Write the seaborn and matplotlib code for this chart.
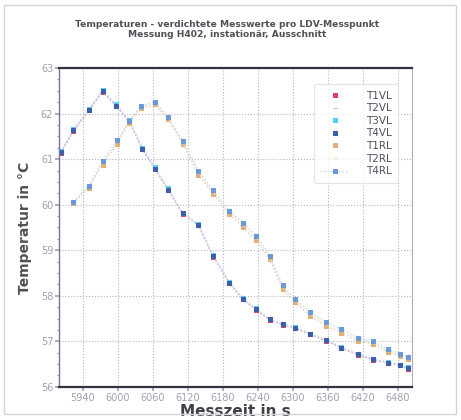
import matplotlib
matplotlib.use("Agg")
import matplotlib.pyplot as plt
import seaborn as sns
import pandas as pd
from matplotlib.ticker import MultipleLocator
from matplotlib.patches import Rectangle

# ---- data ----
t_vl = [5903, 5924, 5950, 5974, 5997, 6019, 6042, 6063, 6086, 6111, 6138, 6163, 6191,
        6214, 6237, 6260, 6282, 6303, 6329, 6357, 6383, 6411, 6437, 6463, 6483, 6497]
T1VL = [61.14, 61.62, 62.07, 62.48, 62.16, 61.84, 61.22, 60.80, 60.33, 59.80, 59.55, 58.86, 58.28,
        57.93, 57.69, 57.47, 57.36, 57.29, 57.15, 57.01, 56.85, 56.70, 56.59, 56.52, 56.47, 56.40]
T2VL = [61.16, 61.60, 62.06, 62.50, 62.18, 61.85, 61.23, 60.78, 60.31, 59.81, 59.56, 58.87, 58.27,
        57.91, 57.70, 57.48, 57.37, 57.30, 57.16, 57.02, 56.86, 56.71, 56.60, 56.53, 56.48, 56.42]
T3VL = [61.18, 61.66, 62.09, 62.52, 62.22, 61.86, 61.25, 60.82, 60.36, 59.82, 59.57, 58.89, 58.30,
        57.95, 57.72, 57.49, 57.38, 57.31, 57.17, 57.03, 56.87, 56.72, 56.61, 56.54, 56.49, 56.43]
T4VL = [61.16, 61.64, 62.08, 62.50, 62.17, 61.84, 61.23, 60.79, 60.33, 59.81, 59.55, 58.87, 58.28,
        57.92, 57.70, 57.48, 57.37, 57.30, 57.16, 57.02, 56.86, 56.71, 56.60, 56.53, 56.48, 56.41]

t_rl = [5924, 5950, 5974, 5999, 6019, 6040, 6063, 6086, 6111, 6138, 6163, 6191, 6214,
        6237, 6260, 6282, 6303, 6329, 6357, 6383, 6411, 6437, 6463, 6483, 6497]
T1RL = [60.04, 60.37, 60.88, 61.34, 61.80, 62.12, 62.20, 61.88, 61.34, 60.66, 60.24, 59.80, 59.50,
        59.22, 58.80, 58.15, 57.86, 57.56, 57.33, 57.18, 57.01, 56.94, 56.76, 56.68, 56.60]
T2RL = [60.08, 60.40, 60.92, 61.38, 61.82, 62.15, 62.24, 61.90, 61.36, 60.70, 60.28, 59.84, 59.55,
        59.28, 58.84, 58.20, 57.90, 57.60, 57.37, 57.22, 57.05, 56.97, 56.79, 56.71, 56.64]
T4RL = [60.06, 60.42, 60.96, 61.42, 61.84, 62.16, 62.26, 61.92, 61.40, 60.74, 60.32, 59.86, 59.60,
        59.32, 58.88, 58.24, 57.93, 57.64, 57.42, 57.26, 57.08, 57.00, 56.82, 56.73, 56.66]

series_names = ["T1VL", "T2VL", "T3VL", "T4VL", "T1RL", "T2RL", "T4RL"]
x_ticks = [5940, 6000, 6060, 6120, 6180, 6240, 6300, 6360, 6420, 6480]
y_ticks = [56, 57, 58, 59, 60, 61, 62, 63]

title = "Temperaturen - verdichtete Messwerte pro LDV-Messpunkt\nMessung H402, instationär, Ausschnitt"
xlabel = "Messzeit in s"
ylabel = "Temperatur in °C"

# ---- build frame ----
frames = []
for name, t, v in [("T1VL", t_vl, T1VL), ("T2VL", t_vl, T2VL), ("T3VL", t_vl, T3VL),
                   ("T4VL", t_vl, T4VL), ("T1RL", t_rl, T1RL), ("T2RL", t_rl, T2RL),
                   ("T4RL", t_rl, T4RL)]:
    frames.append(pd.DataFrame({"t": t, "T": v, "Sensor": name}))
df = pd.concat(frames, ignore_index=True)

styles = {
    "T1VL": dict(mc="#e04060", lc="#f29ac0", m="s", ms=2.6),
    "T2VL": dict(mc="#f4b0a0", lc="#f6c0d4", m="_", ms=3.5),
    "T3VL": dict(mc="#50d0f4", lc="#c0e8f8", m="s", ms=3.0),
    "T4VL": dict(mc="#3a60a8", lc="#c8c8ec", m="s", ms=2.6),
    "T1RL": dict(mc="#e0b078", lc="#f4c8b4", m="s", ms=2.6),
    "T2RL": dict(mc="#ece0a0", lc="#f4ecc4", m="_", ms=3.5),
    "T4RL": dict(mc="#6a98d8", lc="#b8dcf4", m="s", ms=2.6),
}

sns.set_theme(style="white")
plt.rcParams["font.family"] = ["DejaVu Sans"]

fig = plt.figure(figsize=(4.61, 4.20), dpi=100)
ax = fig.add_axes([0.129, 0.079, 0.765, 0.759])

for name in series_names:
    s = styles[name]
    sub = df[df["Sensor"] == name]
    sns.lineplot(data=sub, x="t", y="T", ax=ax, color=s["lc"], linestyle=":",
                 linewidth=1.0, marker=s["m"], markersize=s["ms"],
                 markerfacecolor=s["mc"], markeredgecolor=s["mc"],
                 label=name, legend=False, sort=False)

ax.set_xlim(5900, 6504)
ax.set_ylim(56, 63)
ax.set_xticks(x_ticks)
ax.set_yticks(y_ticks)
ax.yaxis.set_minor_locator(MultipleLocator(0.25))
ax.tick_params(axis="both", which="major", labelsize=7, colors="#a0a0b4",
               length=3, direction="out", pad=1.5)
ax.tick_params(axis="y", which="minor", length=1.5, color="#a0a0b4", left=True)
ax.tick_params(axis="x", bottom=True)
ax.tick_params(axis="y", left=True)
ax.grid(True, which="major", color="#b4b4bc", linestyle=":", linewidth=0.8)

for side in ["top", "bottom"]:
    ax.spines[side].set_color("#333340")
    ax.spines[side].set_linewidth(1.6)
ax.spines["left"].set_color("#8070a0")
ax.spines["left"].set_linewidth(1.0)
ax.spines["right"].set_color("#b8a8c8")
ax.spines["right"].set_linewidth(0.8)

ax.set_xlabel(xlabel, fontsize=11, fontweight="bold", color="#404048", labelpad=1)
ax.set_ylabel(ylabel, fontsize=10, fontweight="bold", color="#505058", labelpad=6)

fig.text(0.492, 0.952, title, ha="center", va="top", fontsize=6.6,
         fontweight="bold", color="#505058", linespacing=1.05)

# legend
handles, labels = ax.get_legend_handles_labels()
leg = ax.legend(handles, labels, loc="upper right", bbox_to_anchor=(0.975, 0.965),
                fontsize=7.5, frameon=True, handlelength=2.8, handletextpad=1.6,
                labelspacing=0.25, borderpad=0.6, labelcolor="#505060")
leg.get_frame().set_edgecolor("#dcdce4")
leg.get_frame().set_linewidth(0.8)
for h in leg.get_lines():
    if h.get_label() != "T4RL":
        h.set_linestyle("none")

# scan frame
fig.patches.append(Rectangle((0.008, 0.015), 0.982, 0.973, transform=fig.transFigure,
                             fill=False, edgecolor="#d4d4d4", linewidth=1.0))

fig.savefig("out.png", dpi=100)
